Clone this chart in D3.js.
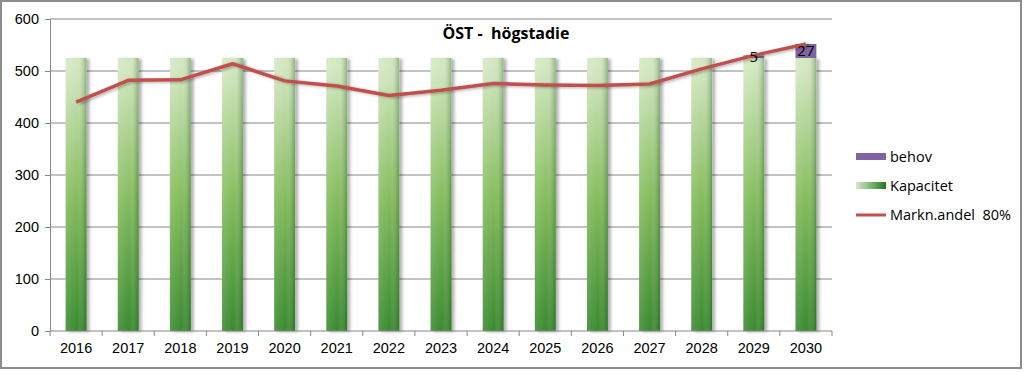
<!DOCTYPE html>
<html>
<head>
<meta charset="utf-8">
<script src="https://cdn.jsdelivr.net/npm/d3@7"></script>
<style>
  body { margin: 0; background: #fff; }
  svg { font-family: "Open Sans", "Liberation Sans", sans-serif; }
  .axis text { font-size: 14.5px; fill: #000; }
  .axis path, .axis line { stroke: #868686; }
</style>
</head>
<body>
<div class="chart"></div>
<script>
var years = ["2016", "2017", "2018", "2019", "2020", "2021", "2022", "2023",
  "2024", "2025", "2026", "2027", "2028", "2029", "2030"];
var kapacitet = [525, 525, 525, 525, 525, 525, 525, 525, 525, 525, 525, 525, 525, 525, 525];
var behov = [0, 0, 0, 0, 0, 0, 0, 0, 0, 0, 0, 0, 0, 5, 27];
var marknandel = [440, 482, 483, 514, 481, 471, 453, 463, 476, 473, 472, 475, 504, 530, 552];
var yTicks = [0, 100, 200, 300, 400, 500, 600];

var svgWidth = 1024;
var svgHeight = 372;

var margin = { top: 19, right: 192, bottom: 41, left: 50 };
var width = svgWidth - margin.left - margin.right;
var height = svgHeight - margin.top - margin.bottom;

var svg = d3.select(".chart")
  .append("svg")
  .attr("width", svgWidth)
  .attr("height", svgHeight);

var defs = svg.append("defs");

// bar fill: pale at top, dark green at bottom, darker to the right
var vGrad = defs.append("linearGradient")
  .attr("id", "kapV")
  .attr("gradientUnits", "userSpaceOnUse")
  .attr("x1", 0).attr("y1", margin.top + 30)
  .attr("x2", 0).attr("y2", margin.top + height);
vGrad.append("stop").attr("offset", "0%").attr("stop-color", "#d3e7c1");
vGrad.append("stop").attr("offset", "45%").attr("stop-color", "#86bd5e");
vGrad.append("stop").attr("offset", "100%").attr("stop-color", "#2f8329");

var hGrad = defs.append("linearGradient")
  .attr("id", "kapH")
  .attr("x1", 0).attr("y1", 0).attr("x2", 1).attr("y2", 0);
hGrad.append("stop").attr("offset", "0%").attr("stop-color", "#fff").attr("stop-opacity", 0.12);
hGrad.append("stop").attr("offset", "55%").attr("stop-color", "#fff").attr("stop-opacity", 0);
hGrad.append("stop").attr("offset", "100%").attr("stop-color", "#0b4d0b").attr("stop-opacity", 0.35);

var legGrad = defs.append("linearGradient")
  .attr("id", "kapLeg")
  .attr("x1", 0).attr("y1", 0).attr("x2", 1).attr("y2", 0);
legGrad.append("stop").attr("offset", "0%").attr("stop-color", "#d8ebc8");
legGrad.append("stop").attr("offset", "100%").attr("stop-color", "#1f7a1f");

var shadow = defs.append("filter").attr("id", "shadow")
  .attr("x", "-20%").attr("y", "-20%").attr("width", "160%").attr("height", "140%");
shadow.append("feDropShadow")
  .attr("dx", 3).attr("dy", 1).attr("stdDeviation", 1.5)
  .attr("flood-color", "#000").attr("flood-opacity", 0.3);

// outer frame
svg.append("rect")
  .attr("x", 1).attr("y", 1)
  .attr("width", svgWidth - 4).attr("height", svgHeight - 5)
  .attr("fill", "#fff")
  .attr("stroke", "#8c8c8c")
  .attr("stroke-width", 2);

var chartGroup = svg.append("g")
  .attr("transform", `translate(${margin.left}, ${margin.top})`);

var xScale = d3.scaleBand()
  .domain(years)
  .range([0, width])
  .paddingInner(0.6)
  .paddingOuter(0.3);

var yScale = d3.scaleLinear()
  .domain([0, 600])
  .range([height, 0]);

// gridlines
chartGroup.append("g")
  .selectAll("line")
  .data(yTicks.slice(1))
  .enter()
  .append("line")
  .attr("x1", 0)
  .attr("x2", width)
  .attr("y1", d => yScale(d))
  .attr("y2", d => yScale(d))
  .attr("stroke", "#868686")
  .attr("stroke-width", 1);

// kapacitet bars
var bars = chartGroup.append("g");
bars.selectAll("rect.kap")
  .data(years)
  .enter()
  .append("rect")
  .attr("class", "kap")
  .attr("x", d => xScale(d))
  .attr("y", (d, i) => yScale(kapacitet[i]))
  .attr("width", xScale.bandwidth())
  .attr("height", (d, i) => yScale(0) - yScale(kapacitet[i]))
  .attr("fill", "url(#kapV)")
  .attr("filter", "url(#shadow)");

bars.selectAll("rect.kapH")
  .data(years)
  .enter()
  .append("rect")
  .attr("class", "kapH")
  .attr("x", d => xScale(d))
  .attr("y", (d, i) => yScale(kapacitet[i]))
  .attr("width", xScale.bandwidth())
  .attr("height", (d, i) => yScale(0) - yScale(kapacitet[i]))
  .attr("fill", "url(#kapH)");

// behov stacked on top
bars.selectAll("rect.behov")
  .data(years)
  .enter()
  .append("rect")
  .attr("class", "behov")
  .attr("x", d => xScale(d))
  .attr("y", (d, i) => yScale(kapacitet[i] + behov[i]))
  .attr("width", xScale.bandwidth())
  .attr("height", (d, i) => yScale(kapacitet[i]) - yScale(kapacitet[i] + behov[i]))
  .attr("fill", "#8064a2");

// axes
var leftAxis = d3.axisLeft(yScale).tickValues(yTicks).tickSize(5).tickPadding(6);
var bottomAxis = d3.axisBottom(xScale).tickSize(0).tickPadding(12);

chartGroup.append("g")
  .attr("class", "axis")
  .call(leftAxis);

var xAxisG = chartGroup.append("g")
  .attr("class", "axis")
  .attr("transform", `translate(0, ${height})`)
  .call(bottomAxis);
xAxisG.select(".domain").attr("d", `M0,0H${width}`);

// tick marks between categories
xAxisG.selectAll("line.sep")
  .data(d3.range(years.length + 1))
  .enter()
  .append("line")
  .attr("class", "sep")
  .attr("x1", i => i * width / years.length)
  .attr("x2", i => i * width / years.length)
  .attr("y1", 0)
  .attr("y2", 5)
  .attr("stroke", "#868686");

// line series
var line = d3.line()
  .x((d, i) => xScale(years[i]) + xScale.bandwidth() / 2)
  .y(d => yScale(d));

chartGroup.append("path")
  .datum(marknandel)
  .attr("d", line)
  .attr("fill", "none")
  .attr("stroke", "#c0504d")
  .attr("stroke-width", 3.5)
  .attr("stroke-linejoin", "round")
  .attr("filter", "url(#shadow)");

// data labels for behov
chartGroup.append("g")
  .selectAll("text")
  .data(years.filter((d, i) => behov[i] > 0))
  .enter()
  .append("text")
  .attr("x", d => xScale(d) + xScale.bandwidth() / 2)
  .attr("y", d => {
    var i = years.indexOf(d);
    return yScale(kapacitet[i] + behov[i] / 2);
  })
  .attr("dy", "0.36em")
  .attr("text-anchor", "middle")
  .style("font-size", "15px")
  .attr("fill", "#000")
  .text(d => behov[years.indexOf(d)]);

// title
svg.append("text")
  .attr("x", 506)
  .attr("y", 39)
  .attr("text-anchor", "middle")
  .style("font-size", "16px")
  .style("font-weight", "bold")
  .style("white-space", "pre")
  .attr("xml:space", "preserve")
  .text("ÖST -  högstadie");

// legend
var legendItems = [
  { name: "behov", type: "rect", fill: "#8064a2" },
  { name: "Kapacitet", type: "rect", fill: "url(#kapLeg)" },
  { name: "Markn.andel  80%", type: "line", fill: "#c0504d" }
];

var legend = svg.append("g")
  .attr("transform", "translate(856, 157)");

legendItems.forEach(function(item, i) {
  var g = legend.append("g").attr("transform", `translate(0, ${i * 29})`);
  if (item.type === "rect") {
    g.append("rect")
      .attr("x", 0).attr("y", -4)
      .attr("width", 30).attr("height", 7)
      .attr("fill", item.fill);
  } else {
    g.append("line")
      .attr("x1", 0).attr("x2", 30)
      .attr("y1", 0).attr("y2", 0)
      .attr("stroke", item.fill)
      .attr("stroke-width", 3);
  }
  g.append("text")
    .attr("x", 34)
    .attr("y", 0)
    .attr("dy", "0.36em")
    .style("font-size", "14.5px")
    .style("white-space", "pre")
    .attr("xml:space", "preserve")
    .text(item.name);
});
</script>
</body>
</html>
